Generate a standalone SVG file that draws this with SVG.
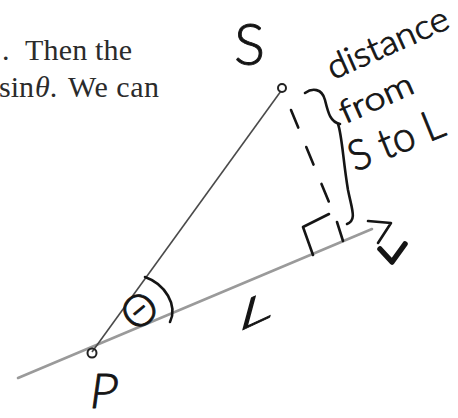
<svg xmlns="http://www.w3.org/2000/svg" width="458" height="418" viewBox="0 0 458 418">
<style>
.typed{font-family:"Liberation Serif","Times New Roman",serif;font-size:30px;fill:#2b2b2b}
.hand{font-family:"Lato","Open Sans","Noto Sans",sans-serif;font-weight:300;fill:#151515;stroke:#151515;stroke-width:0.9;stroke-linejoin:round}
.ink{fill:none;stroke:#151515;stroke-width:2.6;stroke-linecap:round;stroke-linejoin:round}
.pt{fill:none;stroke:#222;stroke-width:2}
</style>
<rect width="458" height="418" fill="#fff"/>
<g id="typed-text">
<text class="typed" x="2" y="60">.</text>
<text class="typed" x="25" y="60" textLength="107">Then the</text>
<text class="typed" x="-1" y="97">sin</text>
<text class="typed" x="35" y="97"><tspan font-style="italic">θ</tspan>.</text>
<text class="typed" x="68" y="97" textLength="91">We can</text>
</g>
<g id="connectors">
<line id="line-L" x1="18" y1="378" x2="372" y2="229" stroke="#9a9a9a" stroke-width="2.6" stroke-linecap="round"/>
<line id="line-PS" x1="92" y1="352" x2="281" y2="91" stroke="#4a4a4a" stroke-width="1.6"/>
<line id="perp-dashed" x1="291" y1="110" x2="331" y2="207" stroke="#151515" stroke-width="2.6" stroke-dasharray="19 21" stroke-linecap="round"/>
<path id="arrowhead" class="ink" d="M368,221 L391,223 L378,243"/>
<path id="arrow-tick" d="M380,249 L392,262 L405,244" fill="none" stroke="#151515" stroke-width="5.5" stroke-linecap="round" stroke-linejoin="round"/>
</g>
<g id="node-S">
<circle class="pt" cx="282" cy="88" r="4"/>
<text class="hand" x="234" y="65" font-size="58">S</text>
</g>
<g id="node-P">
<circle class="pt" cx="92" cy="353" r="4.5"/>
<text class="hand" transform="translate(88,408) skewX(-8)" x="0" y="0" font-size="48">P</text>
</g>
<g id="angle-theta">
<path class="ink" d="M145,277 C165,284 178,305 170,322"/>
<text class="hand" transform="translate(139,310) rotate(-40)" x="0" y="16" font-size="44" text-anchor="middle">Θ</text>
</g>
<g id="label-L">
<text class="hand" transform="translate(236,333) rotate(-25) skewX(-40)" x="0" y="0" font-size="36" textLength="38" lengthAdjust="spacingAndGlyphs">L</text>
</g>
<g id="right-angle">
<path class="ink" d="M313,255 L303,227 L329,214"/>
<line class="ink" x1="337" y1="222" x2="343" y2="241"/>
</g>
<g id="distance-label">
<path class="ink" d="M305,93 C312,88 322,88 325,100 C328,112 330,122 340,124 M338,124 C342,135 343,160 348,190 C352,210 357,220 347,224"/>
<text class="hand" transform="translate(333,80) rotate(-24)" font-size="34" textLength="130" lengthAdjust="spacingAndGlyphs">distance</text>
<text class="hand" transform="translate(345,124) rotate(-24)" font-size="32" textLength="78" lengthAdjust="spacingAndGlyphs">from</text>
<text class="hand" transform="translate(355,172) rotate(-22)" font-size="42" textLength="100" lengthAdjust="spacingAndGlyphs">S to L</text>
</g>
</svg>
